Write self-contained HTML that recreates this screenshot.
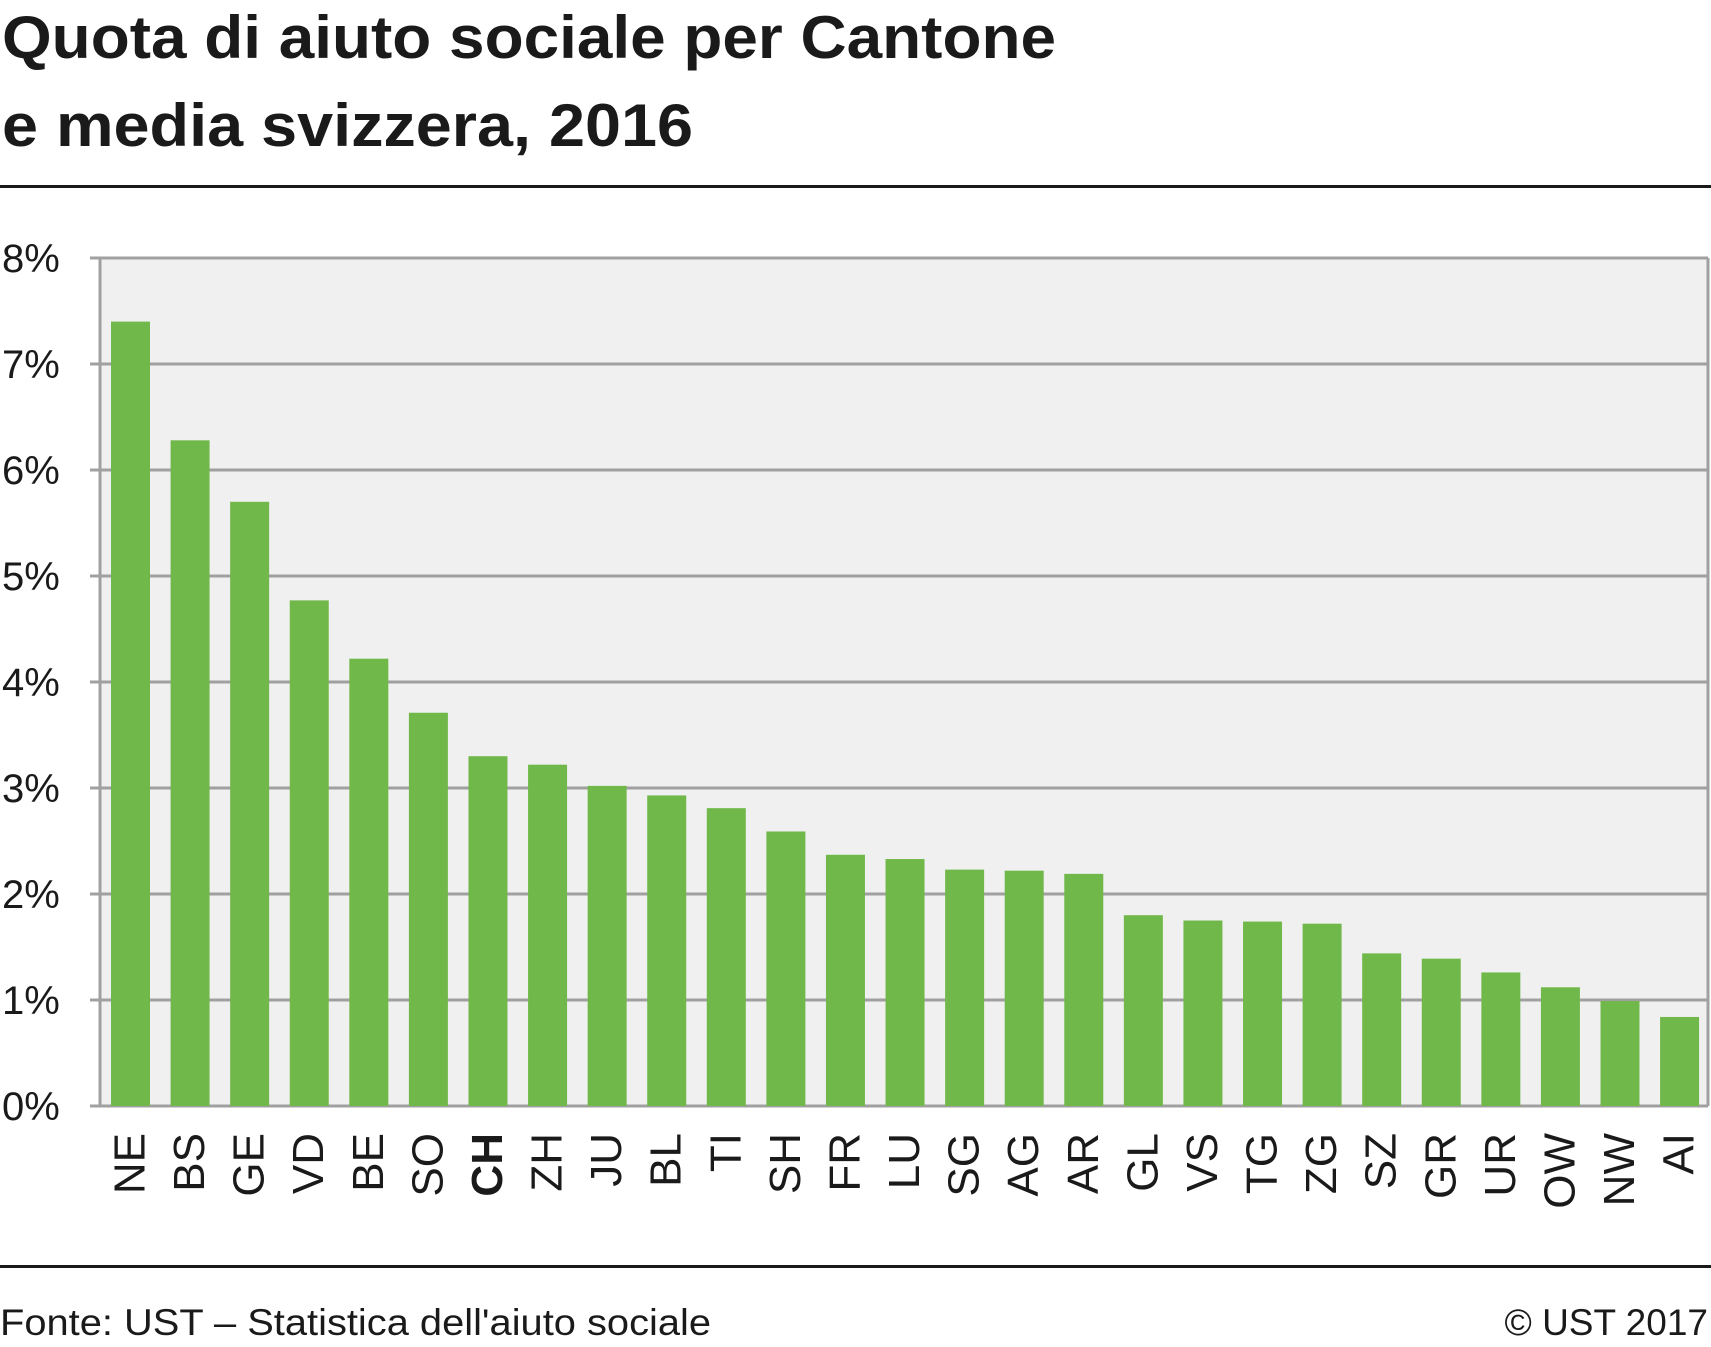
<!DOCTYPE html>
<html><head><meta charset="utf-8"><style>
html,body{margin:0;padding:0;background:#fff}
svg{display:block}
text{font-family:"Liberation Sans",sans-serif;fill:#1a1a1a}
</style></head><body>
<svg id="chart" width="1711" height="1347" viewBox="0 0 1711 1347">
<text x="2" y="58" font-size="60" font-weight="bold" textLength="1054" lengthAdjust="spacingAndGlyphs">Quota di aiuto sociale per Cantone</text>
<text x="2" y="146" font-size="60" font-weight="bold" textLength="691" lengthAdjust="spacingAndGlyphs">e media svizzera, 2016</text>
<rect x="0" y="185" width="1711" height="3" fill="#1a1a1a"/>
<rect x="100" y="258" width="1608" height="848" fill="#f0f0f0"/>
<g id="grid"></g>
<g id="bars"></g>
<g id="xlabels"></g>
<rect x="0" y="1265" width="1711" height="3" fill="#1a1a1a"/>
<text x="0" y="1335" font-size="37" textLength="711" lengthAdjust="spacingAndGlyphs">Fonte: UST – Statistica dell'aiuto sociale</text>
<text x="1708" y="1335" font-size="37" text-anchor="end">© UST 2017</text>
</svg>
<script>
const categories = ["NE","BS","GE","VD","BE","SO","CH","ZH","JU","BL","TI","SH","FR","LU","SG","AG","AR","GL","VS","TG","ZG","SZ","GR","UR","OW","NW","AI"];
const values = [7.4,6.28,5.7,4.77,4.22,3.71,3.3,3.22,3.02,2.93,2.81,2.59,2.37,2.33,2.23,2.22,2.19,1.8,1.75,1.74,1.72,1.44,1.39,1.26,1.12,0.99,0.84];
const yTicks = [0,1,2,3,4,5,6,7,8];
const yTickLabels = ["0%","1%","2%","3%","4%","5%","6%","7%","8%"];
const NS="http://www.w3.org/2000/svg";
const y0=1106, yTop=258, yMax=8;
function yScale(v){return y0-(y0-yTop)*v/yMax;}
const firstX=111, pitch=59.58, bw=39;
function xScale(i){return firstX+i*pitch;}
const grid=document.getElementById('grid');
yTicks.forEach((t,i)=>{
  const y=yScale(t);
  const l=document.createElementNS(NS,'line');
  l.setAttribute('x1',90);l.setAttribute('x2',1708);l.setAttribute('y1',y);l.setAttribute('y2',y);
  l.setAttribute('stroke','#a0a0a0');l.setAttribute('stroke-width','3');
  
  
  grid.appendChild(l);
  const tx=document.createElementNS(NS,'text');
  tx.setAttribute('x',2);tx.setAttribute('y',y+14);tx.setAttribute('font-size','40');
  tx.textContent=yTickLabels[i];
  
  
  grid.appendChild(tx);
});
const ax=document.createElementNS(NS,'path');
ax.setAttribute('d','M100 258 V1106 M1708 258 V1106');
ax.setAttribute('stroke','#a0a0a0');ax.setAttribute('stroke-width','3');ax.setAttribute('fill','none');


grid.appendChild(ax);
const bars=document.getElementById('bars'), xl=document.getElementById('xlabels');
categories.forEach((c,i)=>{
  const x=xScale(i), y=yScale(values[i]);
  const r=document.createElementNS(NS,'rect');
  r.setAttribute('x',x);r.setAttribute('y',y);r.setAttribute('width',bw);r.setAttribute('height',y0-y);
  r.setAttribute('fill','#71b84a');
  
  
  bars.appendChild(r);
  const cx=x+bw/2+14;
  const t=document.createElementNS(NS,'text');
  t.setAttribute('transform','translate('+cx+',1133) rotate(-90)');
  t.setAttribute('text-anchor','end');t.setAttribute('font-size','44');
  if(c==='CH')t.setAttribute('font-weight','bold');
  t.textContent=c;
  
  
  xl.appendChild(t);
});
</script>
</body></html>
